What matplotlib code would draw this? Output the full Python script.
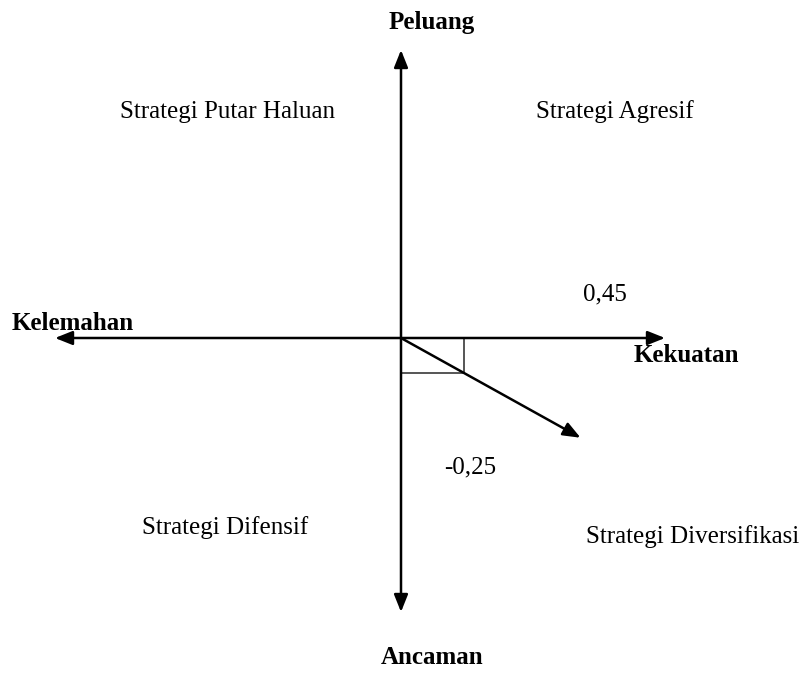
import matplotlib
matplotlib.use("Agg")
import matplotlib.pyplot as plt

# Data
strength_x = 0.45      # Kekuatan (x value)
threat_y = -0.25       # Ancaman (y value)
axis_labels = ["Peluang", "Ancaman", "Kelemahan", "Kekuatan"]
quadrant_labels = ["Strategi Putar Haluan", "Strategi Agresif",
                   "Strategi Difensif", "Strategi Diversifikasi"]
value_labels = ["0,45", "-0,25"]

W, H = 809, 694
PX = 140.0  # pixels per unit
ox, oy = 401, 338  # origin in pixels

fig = plt.figure(figsize=(W / 100, H / 100), dpi=100)
ax = fig.add_axes([0, 0, 1, 1])
ax.set_xlim(-ox / PX, (W - ox) / PX)
ax.set_ylim(-(H - oy) / PX, oy / PX)
ax.axis("off")

def px(x, y):
    return ((x - ox) / PX, (oy - y) / PX)

font = "Liberation Serif"
fs = 18
arrow_kw = dict(arrowstyle="-|>,head_length=0.75,head_width=0.3", color="black",
                lw=1.8, shrinkA=0, shrinkB=0, mutation_scale=14)

# horizontal axis (both directions)
ax.annotate("", xy=px(55, 338), xytext=(0, 0), arrowprops=arrow_kw)
ax.annotate("", xy=px(665, 338), xytext=(0, 0), arrowprops=arrow_kw)
# vertical axis
ax.annotate("", xy=px(401, 50), xytext=(0, 0), arrowprops=arrow_kw)
ax.annotate("", xy=px(401, 612), xytext=(0, 0), arrowprops=arrow_kw)

# rectangle for the point
ax.plot([0, strength_x, strength_x, 0], [threat_y, threat_y, 0, 0],
        color="#555555", lw=1.4)

# arrow through the point
k = 2.85
ax.annotate("", xy=(strength_x * k, threat_y * k), xytext=(0, 0),
            arrowprops=arrow_kw)

bold = dict(fontfamily=font, fontweight="bold", fontsize=fs, color="black")
norm = dict(fontfamily=font, fontsize=fs, color="black")

ax.text(*px(432, 22), axis_labels[0], ha="center", va="center", **bold)
ax.text(*px(432, 657), axis_labels[1], ha="center", va="center", **bold)
ax.text(*px(12, 323), axis_labels[2], ha="left", va="center", **bold)
ax.text(*px(634, 355), axis_labels[3], ha="left", va="center", **bold)

ax.text(*px(227, 112), quadrant_labels[0], ha="center", va="center", **norm)
ax.text(*px(615, 112), quadrant_labels[1], ha="center", va="center", **norm)
ax.text(*px(225, 528), quadrant_labels[2], ha="center", va="center", **norm)
ax.text(*px(693, 537), quadrant_labels[3], ha="center", va="center", **norm)

ax.text(*px(605, 294), value_labels[0], ha="center", va="center", **norm)
ax.text(*px(470, 467), value_labels[1], ha="center", va="center", **norm)

fig.savefig("out.png", dpi=100, facecolor="white")
